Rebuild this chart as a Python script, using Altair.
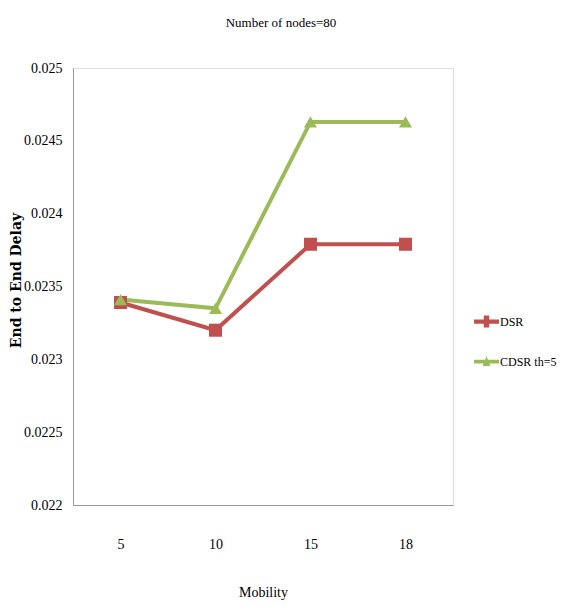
import altair as alt
import pandas as pd

mobility = ["5", "10", "15", "18"]
dsr = [0.02339, 0.0232, 0.02379, 0.02379]
cdsr = [0.02341, 0.02335, 0.02463, 0.02463]
series_names = ["DSR", "CDSR th=5"]
series_colors = ["#C0504D", "#9BBB59"]
y_ticks = [0.022, 0.0225, 0.023, 0.0235, 0.024, 0.0245, 0.025]

rows = []
for name, vals in zip(series_names, [dsr, cdsr]):
    for m, v in zip(mobility, vals):
        rows.append({"Mobility": m, "value": v, "series": name})
df = pd.DataFrame(rows)

FONT = "'Liberation Serif', Tinos, 'Times New Roman', Times, serif"

x_enc = alt.X("Mobility:O", sort=mobility,
              scale=alt.Scale(type="point", padding=0.5),
              axis=alt.Axis(title="Mobility", labelAngle=0, ticks=False, grid=False,
                            domainColor="#9a9a9a", labelFont=FONT, labelFontSize=14,
                            labelPadding=32, labelColor="#000",
                            titleFont=FONT, titleFontSize=14, titleFontWeight="normal",
                            titleY=87, titleBaseline="middle", titleColor="#000"))
y_enc = alt.Y("value:Q",
              scale=alt.Scale(domain=[0.022, 0.025], nice=False, zero=False),
              axis=alt.Axis(title="End to End Delay", values=y_ticks, format="~g",
                            ticks=False, grid=False, domainColor="#9a9a9a",
                            labelFont=FONT, labelFontSize=14, labelPadding=11,
                            labelColor="#000",
                            titleFont="DejaVu Serif", titleFontSize=14, titleFontWeight="bold",
                            titleX=-57, titleY=212, titleAngle=-90, titleAlign="center",
                            titleBaseline="middle", titleColor="#000"))

base = alt.Chart(df)
shapes = ["square", "triangle-up"]

layers = []
for name, col in zip(series_names, series_colors):
    sub = base.transform_filter(alt.datum.series == name)
    layers.append(sub.mark_line(strokeWidth=4, color=col).encode(x=x_enc, y=y_enc))
for name, col, shp in zip(series_names, series_colors, shapes):
    sub = base.transform_filter(alt.datum.series == name)
    layers.append(sub.mark_point(shape=shp, filled=True, size=170, opacity=1, color=col)
                  .encode(x=x_enc, y=y_enc))

path_sq = "M-1,-0.17H-0.22V-0.48H0.22V-0.17H1V0.17H0.22V0.48H-0.22V0.17H-1Z"
path_tri = "M-1,-0.15H-0.11L0,-0.45L0.11,-0.15H1V0.15H0.24L0.3,0.35H-0.3L-0.24,0.15H-1Z"

legend = alt.Legend(title=None, orient="none", legendX=401, legendY=241,
                    symbolSize=625, symbolOpacity=1, symbolStrokeWidth=0,
                    labelFont=FONT, labelFontSize=12, labelColor="#000",
                    labelOffset=1, rowPadding=21, padding=0)

legend_layer = base.transform_filter("false").mark_point(filled=True, opacity=1).encode(
    x=x_enc, y=y_enc,
    color=alt.Color("series:N", scale=alt.Scale(domain=series_names, range=series_colors),
                    legend=legend),
    shape=alt.Shape("series:N", scale=alt.Scale(domain=series_names, range=[path_sq, path_tri]),
                    legend=legend),
)
layers.append(legend_layer)

chart = alt.layer(*layers).properties(
    width=380, height=437,
    title=alt.TitleParams("Number of nodes=80", font=FONT, fontSize=13,
                          fontWeight="normal", color="#000", dx=18, offset=31),
    autosize=alt.AutoSizeParams(type="none"),
    padding={"left": 65, "top": 60, "right": 104, "bottom": 100},
).configure_view(stroke=None).configure(background="white")

chart.save("out.html", embed_options={"renderer": "svg", "actions": False})
